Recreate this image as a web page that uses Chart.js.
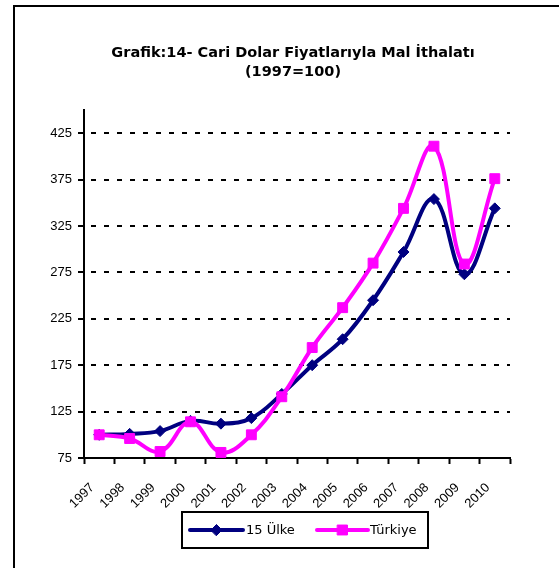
<!DOCTYPE html>
<html>
<head>
<meta charset="utf-8">
<script src="https://cdn.jsdelivr.net/npm/chart.js@4.4.1/dist/chart.umd.min.js"></script>
<style>
  html, body { margin: 0; padding: 0; background: #fff; }
  #wrap { position: relative; width: 559px; height: 568px; overflow: hidden; }
  #frame { position: absolute; left: 13px; top: 5px; width: 700px; height: 700px;
           border-top: 2px solid #000; border-left: 2px solid #000; }
  #chart { position: absolute; left: 0; top: 0; }
</style>
</head>
<body>
<div id="wrap">
  <div id="frame"></div>
  <canvas id="chart" width="559" height="568"></canvas>
</div>
<script>
const years = ['1997', '1998', '1999', '2000', '2001', '2002', '2003',
               '2004', '2005', '2006', '2007', '2008', '2009', '2010'];
const ulke15 = [100, 101, 104, 115, 112, 118, 144, 175, 203, 245, 297, 354, 273, 344];
const turkiye = [100, 96, 82, 114, 81, 100, 141, 194, 237, 285, 344, 411, 284, 376];
const yTicks = [75, 125, 175, 225, 275, 325, 375, 425];

const titleLines = ['Grafik:14- Cari Dolar Fiyatlarıyla Mal İthalatı', '(1997=100)'];
const seriesNames = ['15 Ülke', 'Türkiye'];

const NAVY = '#000080';
const PINK = '#FF00FF';
const FONT = "'Liberation Sans', Arial, sans-serif";
const WIDE = "'DejaVu Sans', sans-serif";

// title and the boxed legend are drawn by hand, like the excel original
const decorPlugin = {
  id: 'decor',
  afterDraw(chart) {
    const ctx = chart.ctx;
    ctx.save();
    ctx.fillStyle = '#000';
    ctx.textAlign = 'center';
    ctx.textBaseline = 'alphabetic';
    ctx.font = 'bold 14.5px ' + WIDE;
    ctx.fillText(titleLines[0], 293, 57);
    ctx.fillText(titleLines[1], 293, 76);

    // legend box
    ctx.lineWidth = 2;
    ctx.strokeStyle = '#000';
    ctx.strokeRect(182, 512, 246, 36);

    const items = [
      { x0: 190, x1: 243, tx: 246, color: NAVY, style: 'rectRot', r: 5.5 },
      { x0: 317, x1: 368, tx: 370, color: PINK, style: 'rect', r: 7 }
    ];
    const y = 530;
    ctx.font = '13px ' + WIDE;
    ctx.textAlign = 'left';
    ctx.textBaseline = 'middle';
    items.forEach((it, i) => {
      ctx.strokeStyle = it.color;
      ctx.lineWidth = 4;
      ctx.lineCap = 'round';
      ctx.beginPath();
      ctx.moveTo(it.x0, y);
      ctx.lineTo(it.x1, y);
      ctx.stroke();
      ctx.fillStyle = it.color;
      ctx.lineWidth = 1;
      Chart.helpers.drawPoint(ctx, { pointStyle: it.style, radius: it.r, borderWidth: 1, rotation: 0 },
        (it.x0 + it.x1) / 2, y);
      ctx.fill();
      ctx.fillStyle = '#000';
      ctx.fillText(seriesNames[i], it.tx, y + 1);
    });
    ctx.restore();
  }
};

new Chart(document.getElementById('chart'), {
  type: 'line',
  data: {
    labels: years,
    datasets: [
      {
        label: seriesNames[0],
        data: ulke15,
        borderColor: NAVY,
        backgroundColor: NAVY,
        borderWidth: 4,
        tension: 0.4,
        pointStyle: 'rectRot',
        pointRadius: 5.5,
        pointBorderWidth: 1,
        order: 1
      },
      {
        label: seriesNames[1],
        data: turkiye,
        borderColor: PINK,
        backgroundColor: PINK,
        borderWidth: 4,
        tension: 0.4,
        pointStyle: 'rect',
        pointRadius: 7,
        pointBorderWidth: 1,
        order: 0
      }
    ]
  },
  options: {
    responsive: false,
    animation: false,
    devicePixelRatio: 1,
    layout: { padding: { left: 24, right: 49, top: 110, bottom: 50 } },
    plugins: {
      legend: { display: false },
      title: { display: false },
      tooltip: { enabled: false }
    },
    scales: {
      x: {
        type: 'category',
        offset: true,
        afterFit: (scale) => { scale.height = 60; },
        grid: {
          offset: true,
          drawOnChartArea: false,
          tickLength: 6,
          tickColor: '#000',
          tickWidth: 2
        },
        border: { color: '#000', width: 2 },
        ticks: {
          color: '#000',
          font: { family: FONT, size: 13 },
          minRotation: 45,
          maxRotation: 45,
          padding: 16,
          labelOffset: -7,
          autoSkip: false
        }
      },
      y: {
        min: 75,
        max: 450,
        afterFit: (scale) => { scale.width = 60; },
        afterBuildTicks: (scale) => {
          scale.ticks = yTicks.map(v => ({ value: v }));
        },
        grid: {
          color: '#000',
          lineWidth: 2,
          tickLength: 6,
          tickColor: '#000',
          tickWidth: 2,
          tickBorderDash: []
        },
        border: { color: '#000', width: 2, dash: [5, 8], dashOffset: -6 },
        ticks: {
          color: '#000',
          font: { family: FONT, size: 13 },
          padding: 6
        }
      }
    }
  },
  plugins: [decorPlugin]
});
</script>
</body>
</html>
